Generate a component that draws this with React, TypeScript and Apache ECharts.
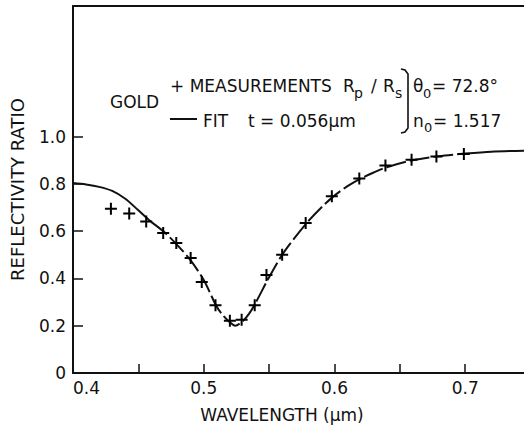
import React, { useEffect, useRef } from "react";
import * as echarts from "echarts";

// Measured points (+)
const measWavelength = [0.429, 0.443, 0.456, 0.469, 0.479, 0.49, 0.4985, 0.509, 0.52, 0.529, 0.539, 0.548, 0.56, 0.578, 0.598, 0.619, 0.639, 0.659, 0.678, 0.699];
const measRatio = [0.695, 0.675, 0.641, 0.592, 0.55, 0.486, 0.385, 0.286, 0.221, 0.225, 0.286, 0.414, 0.5, 0.634, 0.747, 0.822, 0.878, 0.902, 0.916, 0.926];

// Fit curve
const fitWavelength = [0.4, 0.41, 0.42, 0.43, 0.44, 0.45, 0.46, 0.47, 0.48, 0.49, 0.5, 0.51, 0.515, 0.52, 0.524, 0.53, 0.535, 0.54, 0.55, 0.56, 0.57, 0.58, 0.59, 0.6, 0.61, 0.62, 0.63, 0.64, 0.66, 0.68, 0.7, 0.72, 0.745];
const fitRatio = [0.803, 0.797, 0.787, 0.77, 0.737, 0.688, 0.638, 0.595, 0.54, 0.476, 0.393, 0.28, 0.242, 0.215, 0.2, 0.22, 0.253, 0.3, 0.405, 0.5, 0.575, 0.642, 0.7, 0.75, 0.79, 0.822, 0.848, 0.87, 0.9, 0.917, 0.928, 0.936, 0.94];

const xTickValues = [0.45, 0.5, 0.55, 0.6, 0.65, 0.7];
const xLabelValues = [0.4, 0.5, 0.6, 0.7];
const yTickValues = [0.2, 0.4, 0.6, 0.8, 1.0];
const yLabelValues = [0, 0.2, 0.4, 0.6, 0.8, 1.0];

const INK = "#111";
const FONT = "DejaVu Sans";

function fitPairs(lo: number, hi: number) {
  const out: number[][] = [];
  fitWavelength.forEach((w, i) => {
    if (w >= lo - 1e-9 && w <= hi + 1e-9) out.push([w, fitRatio[i]]);
  });
  return out;
}

const PLUS = "path://M5,0H7V5H12V7H7V12H5V7H0V5H5Z";

function txt(text: string, x: number, y: number, size = 17, align = "left") {
  return {
    type: "text",
    x,
    y,
    silent: true,
    style: {
      text,
      fill: INK,
      font: `${size}px "${FONT}"`,
      textAlign: align,
      textVerticalAlign: "middle",
    },
  };
}

export default function App() {
  const ref = useRef<HTMLDivElement>(null);
  useEffect(() => {
    if (!ref.current) return;
    const chart = echarts.init(ref.current, null, { renderer: "svg" });
    const axisText = { color: INK, fontFamily: FONT, fontSize: 17 };
    chart.setOption({
      animation: false,
      backgroundColor: "#fff",
      grid: { left: 73, right: 0, top: 6, bottom: 52, containLabel: false, outerBoundsMode: "none" },
      xAxis: [
        {
          type: "value",
          min: 0.4,
          max: 0.745,
          interval: 0.05,
          name: "WAVELENGTH (μm)",
          nameLocation: "middle",
          nameGap: 33,
          nameTextStyle: { ...axisText, padding: [0, 33, 0, 0] },
          axisLine: { show: true, lineStyle: { color: INK, width: 2 } },
          axisTick: { show: true, inside: true, length: 9, customValues: xTickValues, lineStyle: { color: INK, width: 1.5 } },
          axisLabel: {
            ...axisText,
            margin: 6,
            customValues: xLabelValues,
            alignMinLabel: "left",
            formatter: (v: number) => v.toFixed(1),
          },
          splitLine: { show: false },
        },
        {
          type: "value",
          position: "top",
          min: 0.4,
          max: 0.745,
          axisLine: { show: true, onZero: false, lineStyle: { color: INK, width: 2 } },
          axisTick: { show: false },
          axisLabel: { show: false },
          splitLine: { show: false },
        },
      ],
      yAxis: {
        type: "value",
        min: 0,
        max: 1.552,
        interval: 0.2,
        name: "REFLECTIVITY RATIO",
        nameLocation: "middle",
        nameGap: 47,
        nameTextStyle: { ...axisText, fontSize: 18 },
        axisLine: { show: true, lineStyle: { color: INK, width: 2 } },
        axisTick: { show: true, inside: true, length: 10, customValues: yTickValues, lineStyle: { color: INK, width: 1.5 } },
        axisLabel: {
          ...axisText,
          margin: 7,
          customValues: yLabelValues,
          formatter: (v: number) => (v === 0 ? "0" : v.toFixed(1)),
        },
        splitLine: { show: false },
      },
      series: [
        {
          type: "line",
          data: fitPairs(0.4, 0.46),
          smooth: 0.3,
          showSymbol: false,
          lineStyle: { color: INK, width: 2 },
        },
        {
          type: "line",
          data: fitPairs(0.46, 0.7),
          smooth: 0.3,
          showSymbol: false,
          lineStyle: { color: INK, width: 2, type: [20, 4] },
        },
        {
          type: "line",
          data: fitPairs(0.7, 0.745),
          smooth: 0.3,
          showSymbol: false,
          lineStyle: { color: INK, width: 2 },
        },
        {
          type: "scatter",
          data: measWavelength.map((w, i) => [w, measRatio[i]]),
          symbol: PLUS,
          symbolSize: 12,
          itemStyle: { color: "#000", opacity: 1 },
          z: 5,
        },
      ],
      graphic: [
        txt("GOLD", 110, 102),
        txt("+ MEASUREMENTS", 170, 86),
        txt("R", 343, 86),
        txt("p", 354, 93, 14),
        txt("/", 371, 86),
        txt("R", 383, 86),
        txt("s", 395, 93, 14),
        {
          type: "polyline",
          silent: true,
          shape: { points: [[401, 69], [405, 70], [408, 74], [408, 128], [405, 132], [401, 133]] },
          style: { stroke: INK, lineWidth: 1.6, fill: "none" },
        },
        txt("θ", 413, 86),
        txt("0", 423, 93, 13),
        txt("= 72.8°", 432, 86),
        txt("n", 413, 121),
        txt("0", 424, 127, 13),
        txt("= 1.517", 433, 121),
        {
          type: "line",
          silent: true,
          shape: { x1: 170, y1: 119, x2: 197, y2: 119 },
          style: { stroke: INK, lineWidth: 2 },
        },
        txt("FIT", 203, 121),
        txt("t = 0.056μm", 248, 121),
      ],
    });
    return () => chart.dispose();
  }, []);
  return (
    <div
      ref={ref}
      style={{ position: "fixed", left: 0, top: 0, width: 524, height: 425, background: "#fff" }}
    />
  );
}
